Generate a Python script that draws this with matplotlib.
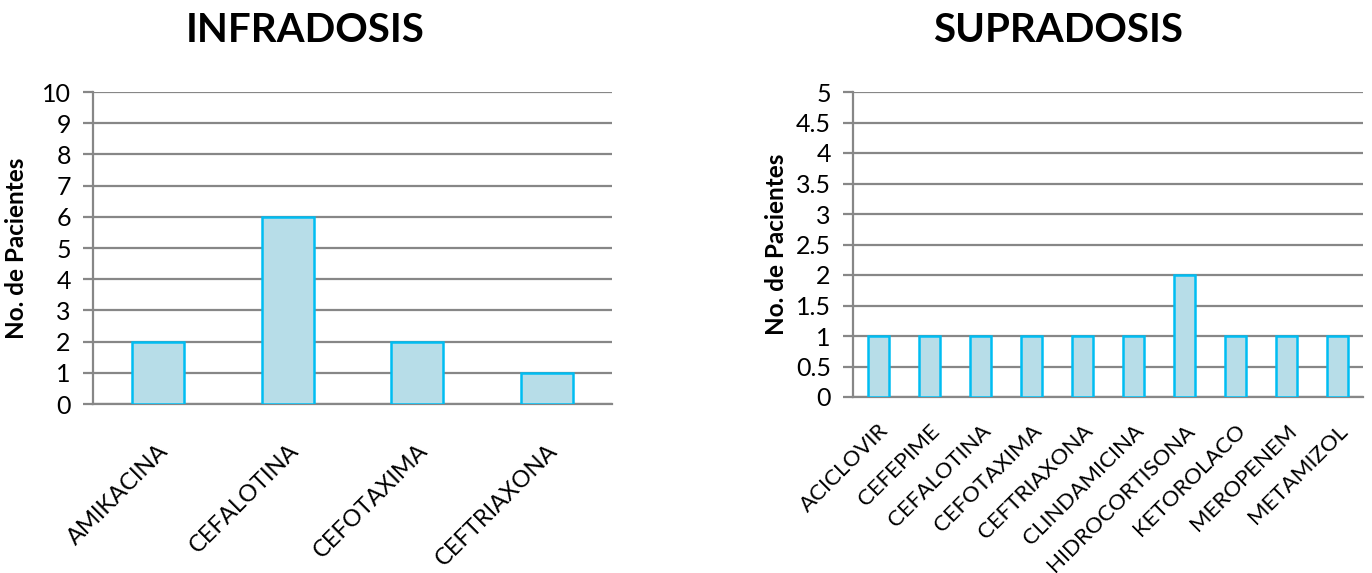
import matplotlib
matplotlib.use("Agg")
import matplotlib.pyplot as plt
from matplotlib.ticker import MultipleLocator, FuncFormatter

plt.rcParams['font.family'] = ['Lato', 'DejaVu Sans']

infra_labels = ["AMIKACINA", "CEFALOTINA", "CEFOTAXIMA", "CEFTRIAXONA"]
infra_values = [2, 6, 2, 1]

supra_labels = ["ACICLOVIR", "CEFEPIME", "CEFALOTINA", "CEFOTAXIMA", "CEFTRIAXONA",
                "CLINDAMICINA", "HIDROCORTISONA", "KETOROLACO", "MEROPENEM", "METAMIZOL"]
supra_values = [1, 1, 1, 1, 1, 1, 2, 1, 1, 1]

W, H = 1372, 573
fig = plt.figure(figsize=(W / 100, H / 100), dpi=100)

FACE = "#B7DDE8"
EDGE = "#00BDF2"
GRID = "#878787"


def plain(v, pos):
    return f"{v:g}"


def panel(rect, labels, values, ymax, step, title, title_x, xpad, xsize, label_x):
    ax = fig.add_axes(rect)
    x = range(len(labels))
    ax.bar(x, values, width=0.4, color=FACE, edgecolor=EDGE, linewidth=1.8, zorder=3)
    ax.set_xlim(-0.5, len(labels) - 0.5)
    ax.set_ylim(0, ymax)
    ax.yaxis.set_major_locator(MultipleLocator(step))
    ax.yaxis.set_major_formatter(FuncFormatter(plain))
    ax.grid(axis='y', color=GRID, linewidth=1.6, zorder=0)
    for s in ("top", "right"):
        ax.spines[s].set_visible(False)
    for s in ("left", "bottom"):
        ax.spines[s].set_color(GRID)
        ax.spines[s].set_linewidth(1.6)
    ax.tick_params(axis='y', length=7, width=1.6, color=GRID, labelsize=18, pad=9)
    ax.tick_params(axis='x', length=0, pad=xpad)
    ax.set_xticks(list(x))
    ax.set_xticklabels(labels, rotation=45, ha='right', rotation_mode='anchor', fontsize=xsize)
    ax.set_ylabel("No. de Pacientes", fontsize=17.5, fontweight='bold')
    ax.yaxis.set_label_coords(label_x, 0.5)
    fig.text(title_x, 1 - 31 / H, title, ha='center', va='center',
             fontsize=29, fontweight='bold')
    return ax


panel([93 / W, 1 - 404 / H, (612 - 93) / W, (404 - 92) / H],
      infra_labels, infra_values, 10, 1, "INFRADOSIS", 305 / W, 26, 17, -0.125)
panel([853 / W, 1 - 397 / H, (1363 - 853) / W, (397 - 92) / H],
      supra_labels, supra_values, 5, 0.5, "SUPRADOSIS", 1058 / W, 17, 16, -0.127)

fig.savefig("out.png", dpi=100)
